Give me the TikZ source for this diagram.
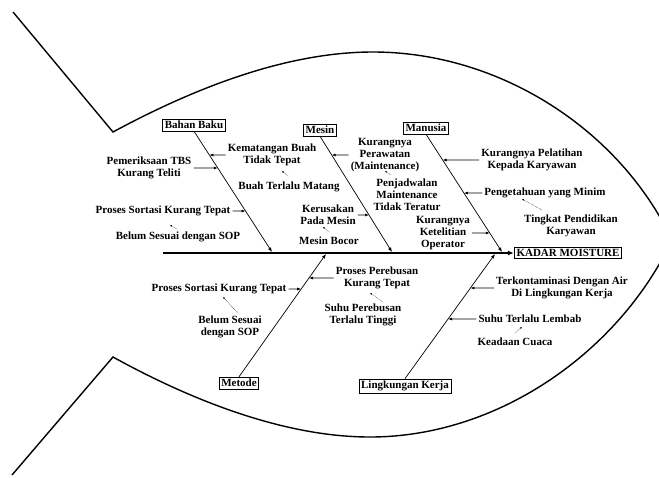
\documentclass[tikz,border=0pt]{standalone}
\usepackage{fontspec}
\setmainfont{Liberation Serif}
\usetikzlibrary{arrows.meta,calc}

\tikzset{
  catbox/.style={draw, line width=0.7pt, inner sep=2pt},
  headbox/.style={draw, line width=1.4pt, inner sep=2pt},
  causetext/.style={align=center, inner xsep=2pt, inner ysep=1pt},
  bonearrow/.style={line width=0.7pt, -{Latex[length=4.5pt,width=3.5pt]}},
  causearrow/.style={line width=0.7pt, -{Latex[length=4pt,width=3pt]}},
  notearrow/.style={densely dotted, line width=0.5pt, -{Latex[length=2pt,width=1.8pt]}},
}

\begin{document}
\begin{tikzpicture}[x=1pt,y=-1pt,font=\fontsize{11}{12}\selectfont\bfseries]
                        \useasboundingbox (0,0) rectangle (659,477);
                        \clip (0,0) rectangle (659,477);
                        % badan ikan
                        \draw [line width=1.4pt] (13,12) -- (113,132) .. controls (200,85) and (290,52) .. (373,52) .. controls (500,52) and (620,130) .. (672,240);
                        \draw [line width=1.4pt] (12,475) -- (113,357) .. controls (200,405) and (290,437) .. (370,437) .. controls (500,437) and (620,350) .. (672,240);

                        % tulang utama
                        \node [headbox] (kadar) at (568,253) {KADAR MOISTURE};
                        \coordinate (tail) at (163,253);
                        \draw [line width=1.8pt, -{Latex[length=6pt,width=5pt]}] (tail) -- (kadar);

                        % kategori
                        \node [catbox] (bahan) at (194,125) {Bahan Baku};
                        \node [catbox] (mesin) at (320,130) {Mesin};
                        \node [catbox] (manusia) at (426,128) {Manusia};
                        \node [catbox] (metode) at (239,383) {Metode};
                        \node [catbox] (lingkungan) at (405,386) {Lingkungan Kerja};
                        \coordinate (bahanE) at (272,252);
                        \coordinate (mesinE) at (392,252);
                        \coordinate (manusiaE) at (502,252);
                        \coordinate (metodeE) at (326,254);
                        \coordinate (lingkunganE) at (495,254);
                        \draw [bonearrow] (bahan.south) -- (bahanE);
                        \draw [bonearrow] (mesin.south) -- (mesinE);
                        \draw [bonearrow] (manusia.south) -- (manusiaE);
                        \draw [bonearrow] (metode.north) -- (metodeE);
                        \draw [bonearrow] (lingkungan.north) -- (lingkunganE);

                        % bahan baku
                        \node [causetext] (kematangan) at (272,155) {Kematangan Buah\\Tidak Tepat};
                        \node [causetext] (pemeriksaan) at (149,168) {Pemeriksaan TBS\\Kurang Teliti};
                        \node [causetext] (matang) at (289,187) {Buah Terlalu Matang};
                        \node [causetext] (sortasi) at (163,211) {Proses Sortasi Kurang Tepat};
                        \node [causetext] (sop) at (178,237) {Belum Sesuai dengan SOP};
                        \coordinate (cKematangan) at (intersection of bahan.south--bahanE and kematangan.west--kematangan.east);
                        \coordinate (cPemeriksaan) at (intersection of bahan.south--bahanE and pemeriksaan.west--pemeriksaan.east);
                        \coordinate (cSortasi) at (intersection of bahan.south--bahanE and sortasi.west--sortasi.east);
                        \draw [causearrow] (kematangan.west) -- (cKematangan);
                        \draw [causearrow] (pemeriksaan.east) -- (cPemeriksaan);
                        \draw [causearrow] (sortasi.east) -- (cSortasi);
                        \draw [notearrow] ($(matang)+(-1,-11)$) -- ($(kematangan)+(10,16)$);
                        \draw [notearrow] ($(sop)+(-1,-8)$) -- ($(sortasi)+(7,14)$);

                        % mesin
                        \node [causetext] (perawatan) at (385,155) {Kurangnya\\Perawatan\\(Maintenance)};
                        \node [causetext] (jadwal) at (407,195) {Penjadwalan\\Maintenance\\Tidak Teratur};
                        \node [causetext] (kerusakan) at (328,215) {Kerusakan\\Pada Mesin};
                        \node [causetext] (bocor) at (329,241) {Mesin Bocor};
                        \coordinate (cPerawatan) at (intersection of mesin.south--mesinE and perawatan.west--perawatan.east);
                        \coordinate (cKerusakan) at (intersection of mesin.south--mesinE and kerusakan.west--kerusakan.east);
                        \draw [causearrow] (perawatan.west) -- (cPerawatan);
                        \draw [causearrow] (kerusakan.east) -- (cKerusakan);
                        \draw [notearrow] ($(jadwal)+(-16,-20)$) -- ($(perawatan)+(0,16)$);
                        \draw [notearrow] ($(bocor)+(0,-9)$) -- ($(kerusakan)+(-5,12)$);

                        % manusia
                        \node [causetext] (pelatihan) at (532,160) {Kurangnya Pelatihan\\Kepada Karyawan};
                        \node [causetext] (pengetahuan) at (545,193) {Pengetahuan yang Minim};
                        \node [causetext] (pendidikan) at (571,226) {Tingkat Pendidikan\\Karyawan};
                        \node [causetext] (ketelitian) at (443,233) {Kurangnya\\Ketelitian\\Operator};
                        \coordinate (cPelatihan) at (intersection of manusia.south--manusiaE and pelatihan.west--pelatihan.east);
                        \coordinate (cPengetahuan) at (intersection of manusia.south--manusiaE and pengetahuan.west--pengetahuan.east);
                        \coordinate (cKetelitian) at (intersection of manusia.south--manusiaE and ketelitian.west--ketelitian.east);
                        \draw [causearrow] (pelatihan.west) -- (cPelatihan);
                        \draw [causearrow] (pengetahuan.west) -- (cPengetahuan);
                        \draw [causearrow] (ketelitian.east) -- (cKetelitian);
                        \draw [notearrow] ($(pendidikan)+(-29,-16)$) -- ($(pengetahuan)+(-23,6)$);

                        % metode
                        \node [causetext] (sortasiB) at (219,289) {Proses Sortasi Kurang Tepat};
                        \node [causetext] (sopB) at (230,327) {Belum Sesuai\\dengan SOP};
                        \node [causetext] (perebusan) at (377,278) {Proses Perebusan\\Kurang Tepat};
                        \node [causetext] (suhu) at (363,315) {Suhu Perebusan\\Terlalu Tinggi};
                        \coordinate (cSortasiB) at (intersection of metode.north--metodeE and sortasiB.west--sortasiB.east);
                        \coordinate (cPerebusan) at (intersection of metode.north--metodeE and perebusan.west--perebusan.east);
                        \draw [causearrow] (sortasiB.east) -- (cSortasiB);
                        \draw [causearrow] (perebusan.west) -- (cPerebusan);
                        \draw [notearrow] ($(sopB)+(8,-14)$) -- ($(sortasiB)+(4,8)$);
                        \draw [notearrow] ($(suhu)+(20,-13)$) -- ($(perebusan)+(-7,15)$);

                        % lingkungan kerja
                        \node [causetext] (kontaminasi) at (562,288) {Terkontaminasi Dengan Air\\Di Lingkungan Kerja};
                        \node [causetext] (lembab) at (530,319) {Suhu Terlalu Lembab};
                        \node [causetext] (cuaca) at (515,342) {Keadaan Cuaca};
                        \coordinate (cKontaminasi) at (intersection of lingkungan.north--lingkunganE and kontaminasi.west--kontaminasi.east);
                        \coordinate (cLembab) at (intersection of lingkungan.north--lingkunganE and lembab.west--lembab.east);
                        \draw [causearrow] (kontaminasi.west) -- (cKontaminasi);
                        \draw [causearrow] (lembab.west) -- (cLembab);
                        \draw [notearrow] ($(cuaca)+(0,-9)$) -- ($(lembab)+(-8,8)$);
                    \end{tikzpicture}
\end{document}
